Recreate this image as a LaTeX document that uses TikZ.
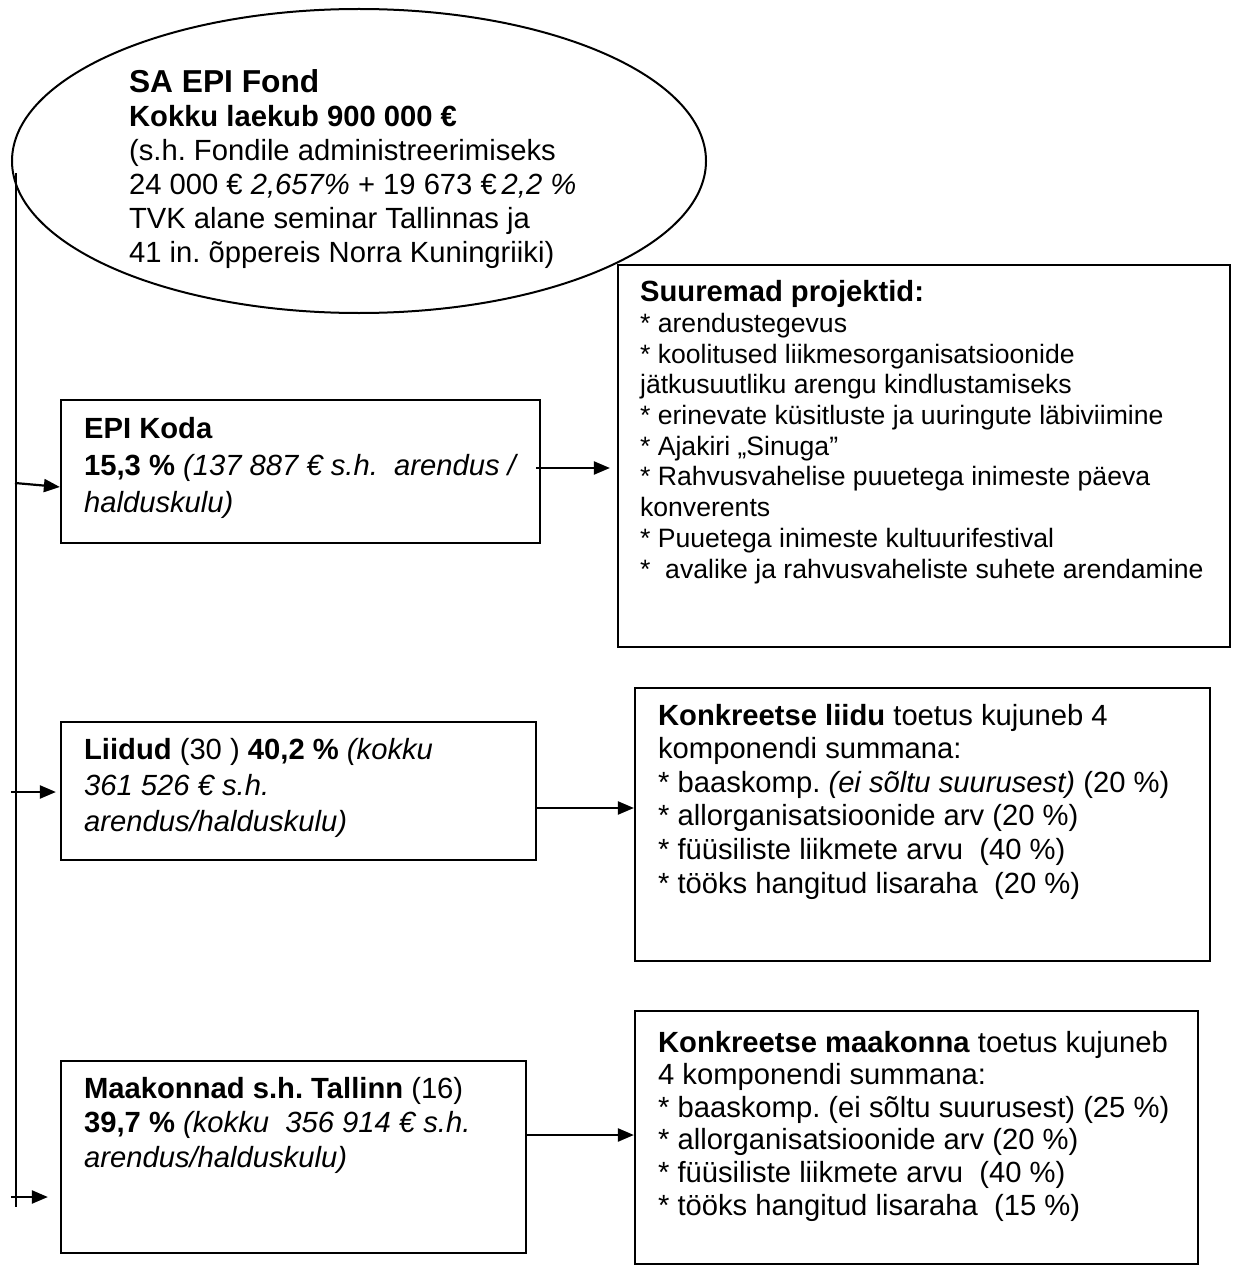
\documentclass[tikz,border=0pt]{standalone}
\usepackage{fontspec}
\setmainfont{Liberation Sans}
\usetikzlibrary{arrows.meta,shapes.geometric}
\frenchspacing
\newcommand\myfA{\fontsize{29.2}{34}\selectfont}
\newcommand\myfB{\fontsize{26.6}{30.7}\selectfont}
\begin{document}
\begin{tikzpicture}[x=1pt,y=-1pt,
  line width=2.2pt,
  box/.style={draw, rectangle, inner sep=0pt},
  txt/.style={anchor=base west, align=left, inner sep=0pt},
  arr/.style={-{Triangle[length=16pt,width=13pt]}}]
\useasboundingbox (0,0) rectangle (1237,1268);

% Fund ellipse
\node[draw, ellipse, inner sep=0pt, minimum width=694pt, minimum height=304pt, line width=2pt] (fond) at (359,161) {};
% anchor = baseline of the last line
\node[txt, font=\myfA] (fondtxt) at (128,262) {{\fontsize{31.7}{34}\selectfont\bfseries SA EPI Fond}\\
\textbf{Kokku laekub 900 000 €}\\
(s.h. Fondile administreerimiseks\\
24 000 € \textit{2,657\%} + 19 673 €\,\textit{2,2 \%}\\
TVK alane seminar Tallinnas ja\\
41 in. õppereis Norra Kuningriiki)};

% trunk
\coordinate (ttop) at (16,173);
\coordinate (tbot) at (16,1207);
\draw (ttop) -- (tbot);

% boxes
\node[box, minimum width=479pt, minimum height=143pt] (koda) at (300.5,471.5) {};
\node[box, minimum width=612pt, minimum height=382pt] (proj) at (924,456) {};
\node[box, minimum width=475pt, minimum height=138pt] (liidud) at (298.5,791) {};
\node[box, minimum width=575pt, minimum height=273pt] (kliit) at (922.5,824.5) {};
\node[box, minimum width=465pt, minimum height=192pt] (maak) at (293.5,1157) {};
\node[box, minimum width=563pt, minimum height=253pt] (kmaak) at (916.5,1137.5) {};

% texts (anchored at the baseline of their last line)
\node[txt, font=\fontsize{29.2}{37}\selectfont] (kodatxt) at (83,512) {\textbf{EPI Koda}\\
\textbf{15,3 \%} \textit{(137 887 € s.h.\ \ arendus /}\\
\textit{halduskulu)}};

\node[txt, font=\myfB] (projtxt) at (639,578) {{\fontsize{29.2}{30.7}\selectfont\bfseries Suuremad projektid:}\\
* arendustegevus\\
* koolitused liikmesorganisatsioonide\\
jätkusuutliku arengu kindlustamiseks\\
* erinevate küsitluste ja uuringute läbiviimine\\
* Ajakiri „Sinuga”\\
* Rahvusvahelise puuetega inimeste päeva\\
konverents\\
* Puuetega inimeste kultuurifestival\\
*\ \ avalike ja rahvusvaheliste suhete arendamine};

\node[txt, font=\fontsize{29.2}{36}\selectfont] (liidudtxt) at (83,831) {\textbf{Liidud} (30 ) \textbf{40,2 \%} \textit{(kokku}\\
\textit{361 526 € s.h.}\\
\textit{arendus/halduskulu)}};

\node[txt, font=\fontsize{29.2}{33.6}\selectfont] (kliittxt) at (657,893) {\textbf{Konkreetse liidu} toetus kujuneb 4\\
komponendi summana:\\
* baaskomp. \textit{(ei sõltu suurusest)} (20 \%)\\
* allorganisatsioonide arv (20 \%)\\
* füüsiliste liikmete arvu\ \ (40 \%)\\
* tööks hangitud lisaraha\ \ (20 \%)};

\node[txt, font=\fontsize{29.2}{34.5}\selectfont] (maaktxt) at (83,1167) {\textbf{Maakonnad s.h. Tallinn} (16)\\
\textbf{39,7 \%} \textit{(kokku\ \ 356 914 € s.h.}\\
\textit{arendus/halduskulu)}};

\node[txt, font=\fontsize{29.2}{32.6}\selectfont] (kmaaktxt) at (657,1215) {\textbf{Konkreetse maakonna} toetus kujuneb\\
4 komponendi summana:\\
* baaskomp. (ei sõltu suurusest) (25 \%)\\
* allorganisatsioonide arv (20 \%)\\
* füüsiliste liikmete arvu\ \ (40 \%)\\
* tööks hangitud lisaraha\ \ (15 \%)};

% connectors from trunk
\coordinate (t1) at (15,483);
\coordinate (t2) at (11,792);
\coordinate (t3) at (11,1197);
\draw[arr] (t1) -- (koda.west |- 0,487);
\draw[arr, shorten >=4pt] (t2) -- (liidud.west |- t2);
\draw[arr, shorten >=12pt] (t3) -- (maak.west |- t3);

% connectors to the right boxes
\draw[arr, shorten >=7pt] ([xshift=-5pt]koda.east |- 0,468) -- (proj.west |- 0,468);
\draw[arr] (liidud.east |- 0,808) -- (kliit.west |- 0,808);
\draw[arr] (maak.east |- 0,1135) -- (kmaak.west |- 0,1135);
\end{tikzpicture}
\end{document}
